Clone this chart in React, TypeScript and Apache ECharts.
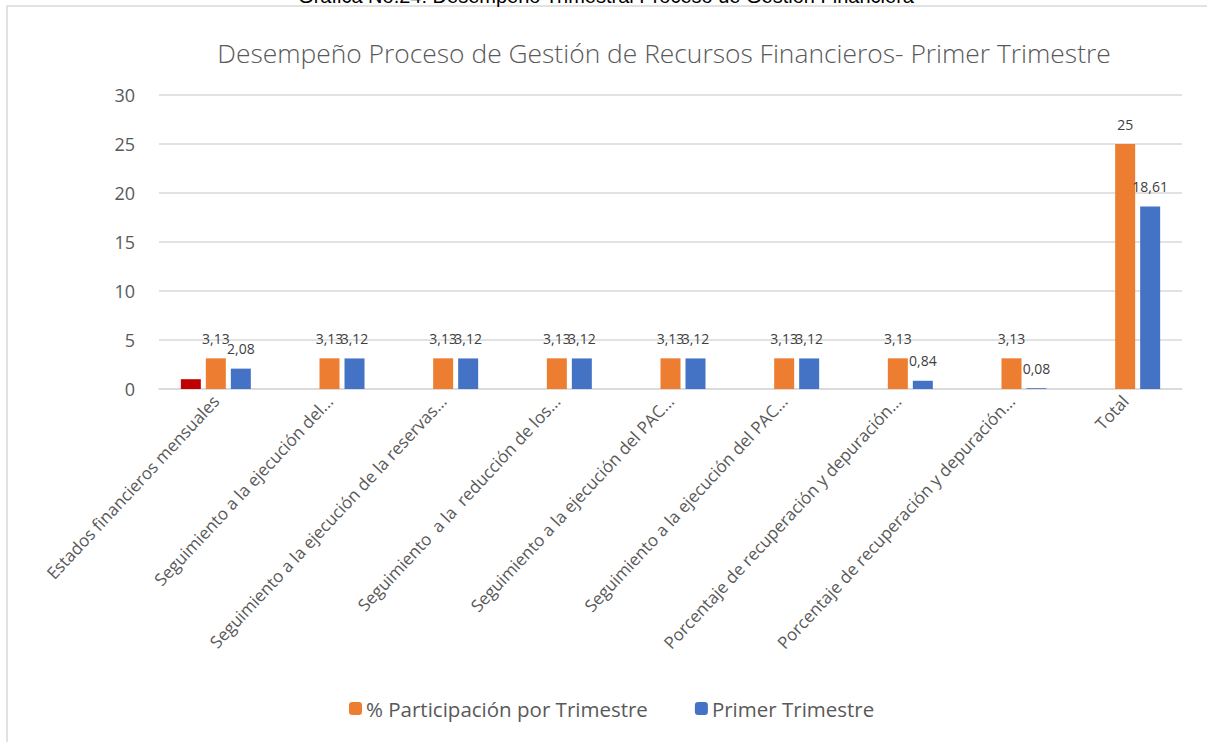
import React, { useEffect, useRef } from "react";
import * as echarts from "echarts";

const categories = [
  "Estados financieros mensuales",
  "Seguimiento a la ejecución del...",
  "Seguimiento a la ejecución de la reservas...",
  "Seguimiento  a la  reducción de los...",
  "Seguimiento a la ejecución del PAC...",
  "Seguimiento a la ejecución del PAC...",
  "Porcentaje de recuperación y depuración...",
  "Porcentaje de recuperación y depuración...",
  "Total",
];
const metaValues = [1, null, null, null, null, null, null, null, null];
const participacion = [3.13, 3.13, 3.13, 3.13, 3.13, 3.13, 3.13, 3.13, 25];
const primerTrimestre = [2.08, 3.12, 3.12, 3.12, 3.12, 3.12, 0.84, 0.08, 18.61];
const yTicks = [0, 5, 10, 15, 20, 25, 30];

const chartTitle = "Desempeño Proceso de Gestión de Recursos Financieros- Primer Trimestre";
const headerText = "Gráfica No.24: Desempeño Trimestral Proceso de Gestión Financiera";

export default function App() {
  const ref = useRef<HTMLDivElement>(null);
  useEffect(() => {
    document.body.style.margin = "0";
    const chart = echarts.init(ref.current!, null, { renderer: "svg" });
    const fmt = (p: any) => String(p.value).replace(".", ",");
    const labelStyle = {
      show: true,
      position: "top",
      distance: 13,
      fontFamily: "Open Sans",
      fontSize: 14,
      color: "#404040",
      formatter: fmt,
    };
    chart.setOption({
      animation: false,
      backgroundColor: "#ffffff",
      title: {
        text: chartTitle,
        left: 659,
        top: 35,
        textAlign: "center",
        textStyle: {
          fontFamily: "Open Sans",
          fontWeight: 300,
          fontSize: 26.4,
          color: "#595959",
        },
      },
      graphic: [
        {
          type: "rect",
          shape: { x: 7, y: 6, width: 1230, height: 780 },
          style: { fill: "none", stroke: "#d9d9d9", lineWidth: 1.5 },
          silent: true,
        },
        {
          type: "text",
          x: 606,
          y: 6,
          style: {
            text: headerText,
            fontFamily: "Liberation Sans",
            fontSize: 20,
            fill: "#000000",
            textAlign: "center",
            textVerticalAlign: "bottom",
          },
        },
      ],
      legend: {
        bottom: 18,
        left: 344,
        itemWidth: 13,
        itemHeight: 13,
        itemGap: 47,
        data: ["% Participación por Trimestre", "Primer Trimestre"],
        textStyle: { fontFamily: "Open Sans", fontSize: 20.5, color: "#595959", padding: [0, 0, 0, -1] },
      },
      grid: { left: 159, right: 25, top: 95, bottom: 353 },
      xAxis: {
        type: "category",
        data: categories,
        axisLine: { lineStyle: { color: "#d9d9d9", width: 1.5 } },
        axisTick: { show: false },
        axisLabel: {
          rotate: 47,
          interval: 0,
          margin: 9,
          fontFamily: "Open Sans",
          fontSize: 17,
          color: "#595959",
        },
      },
      yAxis: {
        type: "value",
        min: yTicks[0],
        max: yTicks[yTicks.length - 1],
        interval: 5,
        axisLine: { show: false },
        axisTick: { show: false },
        splitLine: { lineStyle: { color: "#d9d9d9", width: 1.5 } },
        axisLabel: {
          margin: 24,
          fontFamily: "Open Sans",
          fontSize: 18,
          color: "#595959",
        },
      },
      series: [
        {
          name: "Meta",
          type: "bar",
          data: metaValues,
          barWidth: 20,
          barGap: "25%",
          itemStyle: { color: "#C00000" },
        },
        {
          name: "% Participación por Trimestre",
          type: "bar",
          data: participacion,
          barWidth: 20,
          barGap: "25%",
          itemStyle: { color: "#ED7D31" },
          label: labelStyle,
        },
        {
          name: "Primer Trimestre",
          type: "bar",
          data: primerTrimestre,
          barWidth: 20,
          barGap: "25%",
          itemStyle: { color: "#4472C4" },
          label: labelStyle,
        },
      ],
    });
    return () => chart.dispose();
  }, []);
  return (
    <div
      ref={ref}
      style={{ position: "absolute", left: 0, top: 0, width: 1207, height: 742 }}
    />
  );
}
